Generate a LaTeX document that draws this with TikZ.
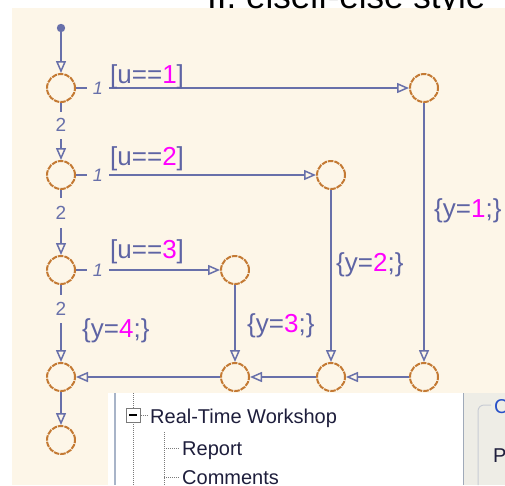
\documentclass[tikz,border=0pt]{standalone}
\usepackage{fontspec}
\setmainfont{Liberation Sans}
\usetikzlibrary{arrows.meta}
\definecolor{cream}{HTML}{FDF6E8}
\definecolor{lincol}{HTML}{6870AA}
\definecolor{juncol}{HTML}{C47A34}
\definecolor{labcol}{HTML}{5E64A4}
\definecolor{mag}{HTML}{FF00FF}
\definecolor{treetext}{HTML}{1E1E3C}
\definecolor{treeline}{HTML}{7A7A7A}
\definecolor{treeborder}{HTML}{A8B4C8}
\definecolor{panelgray}{HTML}{EEEDE6}
\definecolor{groupcol}{HTML}{C8CCD4}
\definecolor{ctext}{HTML}{2850C8}
\begin{document}
\begin{tikzpicture}[x=1pt,y=-1pt,
  junc/.style={circle,draw=juncol,line width=2pt,dash pattern=on 5.5pt off 1pt,minimum size=28pt,inner sep=0pt},
  tr/.style={draw=lincol,line width=2pt},
  arr/.style={-{Triangle[open,length=12pt,width=10pt,line width=1.5pt]}},
  cond/.style={font=\fontsize{26}{28}\selectfont,text=labcol,inner sep=0pt,anchor=base west},
  ord/.style={font=\itshape\fontsize{18}{20}\selectfont,text=lincol,fill=cream,inner sep=0pt,minimum width=22pt,minimum height=13pt},
  ordv/.style={font=\fontsize{19}{20}\selectfont,text=lincol,fill=cream,inner sep=0pt,minimum width=13pt},
  treelbl/.style={font=\fontsize{20}{22}\selectfont,text=treetext,inner sep=0pt,anchor=base west},
  dots/.style={draw=treeline,line width=1pt,dash pattern=on 1pt off 1pt},
]
\useasboundingbox (0,0) rectangle (505,485);
\clip (0,0) rectangle (505,485);
% backgrounds
\fill[white] (0,0) rectangle (505,485);
\fill[cream] (12,8) rectangle (505,485);
% clipped heading
\begin{scope}
\clip (0,0) rectangle (505,9);
\node[font=\fontsize{35}{36}\selectfont,inner sep=0pt,anchor=base west] (head) at (207,8) {II. elseif-else style};
\end{scope}

% junctions
\fill[lincol] (61,28) circle (4.2pt);
\coordinate (dot) at (61,28);
\node[junc] (j1) at (61,88) {};
\node[junc] (j2) at (61,175) {};
\node[junc] (j3) at (61,270) {};
\node[junc] (j4) at (61,377) {};
\node[junc] (j5) at (61,440) {};
\node[junc] (r1) at (424,88) {};
\node[junc] (r2) at (331,175) {};
\node[junc] (r3) at (235,270) {};
\node[junc] (b1) at (424,377) {};
\node[junc] (b2) at (331,377) {};
\node[junc] (b3) at (235,377) {};

% transitions
\draw[tr,arr] (dot) -- (j1);
\draw[tr,arr] (j1) -- (r1);
\draw[tr,arr] (j2) -- (r2);
\draw[tr,arr] (j3) -- (r3);
\draw[tr,arr] (j1) -- (j2);
\draw[tr,arr] (j2) -- (j3);
\draw[tr,arr] (j3) -- (j4);
\draw[tr,arr] (j4) -- (j5);
\draw[tr,arr] (r1) -- (b1);
\draw[tr,arr] (r2) -- (b2);
\draw[tr,arr] (r3) -- (b3);
\draw[tr,arr] (b1) -- (b2);
\draw[tr,arr] (b2) -- (b3);
\draw[tr,arr] (b3) -- (j4);

% execution order labels
\node[ord] (o1) at (98,88) {1};
\node[ord] (o2) at (98,175) {1};
\node[ord] (o3) at (98,270) {1};
\node[ordv,minimum height=27pt] (v1) at (61,125) {2};
\node[ordv,minimum height=30pt] (v2) at (61,213) {2};
\node[ordv,minimum height=28pt] (v3) at (61,309) {2};

% conditions and actions
\node[cond] (c1) at (110,83) {[u==\textcolor{mag}{1}]};
\node[cond] (c2) at (110,165) {[u==\textcolor{mag}{2}]};
\node[cond] (c3) at (110,258) {[u==\textcolor{mag}{3}]};
\node[cond] (a1) at (434,217) {\{y=\textcolor{mag}{1};\}};
\node[cond] (a2) at (336,271) {\{y=\textcolor{mag}{2};\}};
\node[cond] (a3) at (247,332) {\{y=\textcolor{mag}{3};\}};
\node[cond] (a4) at (82,337) {\{y=\textcolor{mag}{4};\}};

% overlapping dialog window
\fill[white] (108,393) rectangle (463,485);
\draw[treeborder,line width=1.5pt] (115,393) -- (115,485);
\fill[panelgray] (463,393) rectangle (505,485);
\draw[treeborder!80!gray,line width=1pt] (463.5,393) -- (463.5,485);
\draw[groupcol,line width=1pt,rounded corners=6pt] (478,485) -- (478,405) -- (491,405);
\node[font=\fontsize{20}{22}\selectfont,text=ctext,inner sep=0pt,anchor=base west] (ct) at (494,413) {C};
\node[treelbl] (pt) at (493,462) {P};

\draw[dots] (133,393) -- (133,408);
\draw[dots] (133,422) -- (133,485);
\node[draw=treeline,fill=white,line width=1pt,minimum size=14pt,inner sep=0pt] (box) at (133,415) {};
\draw[black,line width=1.2pt] (129,415) -- (137,415);
\draw[dots] (box.east) -- (148,415);
\node[treelbl] (rtw) at (150,423) {Real-Time Workshop};
\draw[dots] (164,432) -- (164,485);
\draw[dots] (164,448) -- (179,448);
\node[treelbl] (rep) at (182,455) {Report};
\draw[dots] (164,477) -- (179,477);
\node[treelbl] (com) at (182,484) {Comments};
\end{tikzpicture}
\end{document}
